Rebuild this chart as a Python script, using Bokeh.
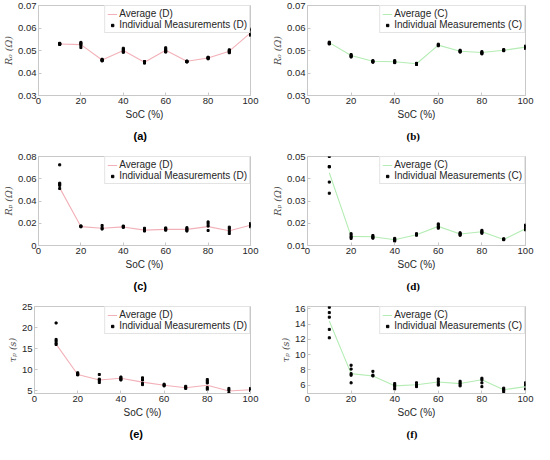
from bokeh.plotting import figure
from bokeh.layouts import column, row
from bokeh.models import Range1d, FixedTicker, Legend, LegendItem, Title, PrintfTickFormatter
from bokeh.embed import file_html
from bokeh.resources import INLINE

soc = [10, 20, 30, 40, 50, 60, 70, 80, 90, 100]
x_ticks = [0, 20, 40, 60, 80, 100]

# (a) Ro, discharge
ro_d_avg = [0.0529, 0.0526, 0.0458, 0.0500, 0.0448, 0.0501, 0.0452, 0.0467, 0.0497, 0.0578]
ro_d_meas = [
    [0.0532, 0.0530, 0.0528, 0.0527, 0.0529],
    [0.0536, 0.0532, 0.0528, 0.0522, 0.0513],
    [0.0459, 0.0457, 0.0455, 0.0461, 0.0454],
    [0.0510, 0.0505, 0.0500, 0.0495, 0.0492],
    [0.0451, 0.0448, 0.0446, 0.0444, 0.0450],
    [0.0512, 0.0505, 0.0500, 0.0496, 0.0493],
    [0.0453, 0.0451, 0.0450, 0.0449, 0.0452],
    [0.0470, 0.0467, 0.0465, 0.0463, 0.0469],
    [0.0503, 0.0500, 0.0497, 0.0493, 0.0490],
    [0.0595, 0.0590, 0.0575, 0.0570, 0.0568],
]
# (b) Ro, charge
ro_c_avg = [0.0535, 0.0478, 0.0452, 0.0450, 0.0441, 0.0524, 0.0497, 0.0491, 0.0501, 0.0515]
ro_c_meas = [
    [0.0537, 0.0534, 0.0531, 0.0529],
    [0.0482, 0.0478, 0.0475, 0.0471],
    [0.0455, 0.0452, 0.0450, 0.0448],
    [0.0455, 0.0451, 0.0448, 0.0446],
    [0.0443, 0.0441, 0.0439, 0.0438],
    [0.0528, 0.0524, 0.0521],
    [0.0501, 0.0498, 0.0495, 0.0493],
    [0.0495, 0.0491, 0.0488, 0.0485],
    [0.0504, 0.0501, 0.0499],
    [0.0520, 0.0516, 0.0512, 0.0509],
]
# (c) Rp, discharge
rp_d_avg = [0.0518, 0.0170, 0.0155, 0.0167, 0.0138, 0.0145, 0.0145, 0.0170, 0.0132, 0.0182]
rp_d_meas = [
    [0.0725, 0.0560, 0.0550, 0.0540, 0.0512],
    [0.0176, 0.0172, 0.0168],
    [0.0180, 0.0160, 0.0148],
    [0.0175, 0.0168, 0.0163],
    [0.0155, 0.0145, 0.0136, 0.0130],
    [0.0158, 0.0150, 0.0143, 0.0138],
    [0.0160, 0.0150, 0.0140, 0.0130],
    [0.0212, 0.0195, 0.0175, 0.0135],
    [0.0165, 0.0150, 0.0128, 0.0108],
    [0.0198, 0.0190, 0.0180, 0.0168],
]
# (d) Rp, charge
rp_c_avg = [0.0427, 0.0141, 0.0139, 0.0126, 0.0148, 0.0186, 0.0152, 0.0162, 0.0127, 0.0175]
rp_c_meas = [
    [0.0500, 0.0455, 0.0453, 0.0385, 0.0335],
    [0.0153, 0.0145, 0.0138, 0.0132],
    [0.0145, 0.0140, 0.0136, 0.0133],
    [0.0132, 0.0128, 0.0124, 0.0120],
    [0.0153, 0.0150, 0.0146],
    [0.0197, 0.0190, 0.0183, 0.0178],
    [0.0157, 0.0153, 0.0149, 0.0146],
    [0.0168, 0.0163, 0.0159, 0.0155],
    [0.0130, 0.0128, 0.0126],
    [0.0192, 0.0186, 0.0178, 0.0170],
]
# (e) tau_p, discharge
tau_d_avg = [16.1, 8.9, 7.6, 8.0, 7.1, 6.35, 5.75, 6.35, 5.0, 5.3]
tau_d_meas = [
    [21.1, 17.2, 16.8, 16.3, 16.0],
    [9.3, 9.1, 8.9, 8.8],
    [8.9, 7.8, 7.5, 7.0],
    [8.3, 8.0, 7.8, 7.6],
    [8.1, 7.6, 6.8, 6.5],
    [6.6, 6.4, 6.2],
    [6.1, 5.8, 5.6],
    [7.7, 7.3, 6.9, 5.8, 5.4],
    [5.6, 5.2, 4.6],
    [5.6, 5.4, 5.1],
]
# (f) tau_p, charge
tau_c_avg = [14.4, 7.5, 7.2, 5.9, 6.05, 6.4, 6.2, 6.7, 5.4, 5.8]
tau_c_meas = [
    [16.2, 15.5, 14.9, 13.3, 12.2],
    [8.6, 8.1, 7.5, 7.3, 6.3],
    [7.8, 7.3, 7.2],
    [6.2, 6.0, 5.8, 5.5],
    [6.3, 6.0, 5.8],
    [6.8, 6.5, 6.2, 6.0],
    [6.5, 6.3, 6.1, 5.9],
    [6.9, 6.7, 6.3, 5.8],
    [5.6, 5.4, 5.2, 4.9],
    [6.3, 6.0, 5.5],
]

RED = "#f2b0b8"
GREEN = "#b4ecb4"
TXT = "#262626"
BOX = "#c8c8c8"


def make_panel(col, rowi, avg, meas, color, tag, ylab, ylo, yhi, yticks, fmt, caption, cap_font, zero_label=False):
    left = col == 0
    top_b, bot_b = [(5, 53), (8, 49), (10, 47)][rowi]
    p = figure(width=267, height=148, output_backend="svg", toolbar_location=None, tools="",
               title=None, x_range=Range1d(0, 100), y_range=Range1d(ylo, yhi),
               min_border_left=34 if left else 40, min_border_right=17 if left else 9,
               min_border_top=top_b, min_border_bottom=bot_b)
    p.background_fill_color = "white"
    p.border_fill_color = "white"
    p.outline_line_color = BOX
    p.grid.visible = False

    mx, my = [], []
    for s, vals in zip(soc, meas):
        for v in vals:
            mx.append(s)
            my.append(v)

    r_line = p.line(soc, avg, line_color=color, line_width=1.1)
    r_pts = p.scatter(mx, my, marker="square", size=2.0, color="black")

    for ax in (p.xaxis[0], p.yaxis[0]):
        ax.axis_line_color = BOX
        ax.major_tick_line_color = BOX
        ax.major_tick_in = 3
        ax.major_tick_out = 0
        ax.minor_tick_line_color = None
        ax.major_label_text_font = "Liberation Sans"
        ax.major_label_text_font_size = "9.5px"
        ax.major_label_text_color = TXT
        ax.major_label_standoff = 2
        ax.axis_label_standoff = 2
        ax.axis_label_text_color = TXT

    p.xaxis[0].ticker = FixedTicker(ticks=x_ticks)
    p.xaxis[0].axis_label = "SoC (%)"
    p.xaxis[0].axis_label_text_font = "Liberation Sans"
    p.xaxis[0].axis_label_text_font_size = "10px"
    p.xaxis[0].axis_label_text_font_style = "normal"

    p.yaxis[0].ticker = FixedTicker(ticks=yticks)
    p.yaxis[0].formatter = PrintfTickFormatter(format=fmt)
    p.yaxis[0].axis_label_standoff = 1
    if zero_label:
        p.yaxis[0].major_label_overrides = {0: "0"}
    p.yaxis[0].axis_label = ylab
    p.yaxis[0].axis_label_text_font = "DejaVu Serif"
    p.yaxis[0].axis_label_text_font_size = "9.5px"
    p.yaxis[0].axis_label_text_font_style = "italic"
    p.yaxis[0].axis_label_text_color = "#505050"

    legend = Legend(items=[LegendItem(label="Average (%s)" % tag, renderers=[r_line]),
                           LegendItem(label="Individual Measurements (%s)" % tag, renderers=[r_pts])],
                    location="top_right", margin=0, padding=2, spacing=0,
                    glyph_width=10, glyph_height=6, label_height=10, label_standoff=2,
                    label_text_font="Liberation Sans", label_text_font_size="10px",
                    label_text_color=TXT, border_line_color=BOX, background_fill_color="white",
                    background_fill_alpha=1.0)
    p.add_layout(legend)

    cap = Title(text=caption, align="left", offset=95 if left else 99, standoff=10,
                text_font=cap_font, text_font_size="11px", text_font_style="bold",
                text_color="black")
    p.add_layout(cap, "below")
    return p


pa = make_panel(0, 0, ro_d_avg, ro_d_meas, RED, "D", "Rₒ (Ω)", 0.03, 0.07,
                [0.03, 0.04, 0.05, 0.06, 0.07], "%.2f", "(a)", "Liberation Sans")
pb = make_panel(1, 0, ro_c_avg, ro_c_meas, GREEN, "C", "Rₒ (Ω)", 0.03, 0.07,
                [0.03, 0.04, 0.05, 0.06, 0.07], "%.2f", "(b)", "Liberation Serif")
pc = make_panel(0, 1, rp_d_avg, rp_d_meas, RED, "D", "Rₚ (Ω)", 0.0, 0.08,
                [0.0, 0.02, 0.04, 0.06, 0.08], "%.2f", "(c)", "Liberation Sans", zero_label=True)
pd = make_panel(1, 1, rp_c_avg, rp_c_meas, GREEN, "C", "Rₚ (Ω)", 0.01, 0.05,
                [0.01, 0.02, 0.03, 0.04, 0.05], "%.2f", "(d)", "Liberation Serif")
pe = make_panel(0, 2, tau_d_avg, tau_d_meas, RED, "D", "τₚ (s)", 4.4, 25,
                [5, 10, 15, 20, 25], "%d", "(e)", "Liberation Sans")
pf = make_panel(1, 2, tau_c_avg, tau_c_meas, GREEN, "C", "τₚ (s)", 4.9, 16.3,
                [6, 8, 10, 12, 14, 16], "%d", "(f)", "Liberation Serif")

layout = column(row(pa, pb), row(pc, pd), row(pe, pf))
open("out.html", "w").write(file_html(layout, INLINE))
